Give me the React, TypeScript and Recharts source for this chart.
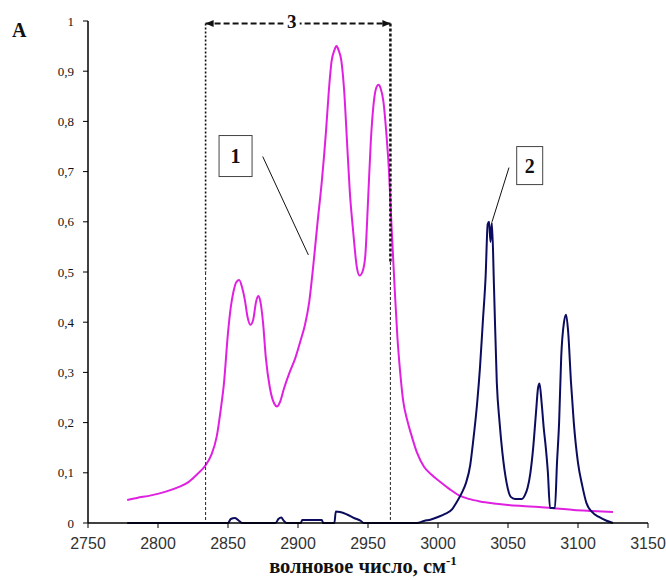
import {
  LineChart, Line, XAxis, YAxis, ReferenceLine, ReferenceDot,
} from 'recharts'

// curve 1 (magenta)
const magentaX = [
  2778, 2785, 2795, 2805, 2815, 2822, 2828, 2834, 2838, 2842, 2845, 2847, 2850, 2852, 2854, 2856,
  2858, 2860, 2862, 2864, 2866, 2868, 2870, 2871.5, 2873, 2875, 2877, 2880, 2883, 2885, 2887, 2890,
  2894, 2898, 2902, 2905, 2908, 2911, 2914, 2917, 2920, 2922, 2924, 2926, 2927.5, 2929, 2931, 2933,
  2935, 2937, 2939.5, 2942, 2944, 2946, 2948, 2950, 2952, 2954, 2956, 2957.5, 2959, 2961, 2963, 2965,
  2967, 2969, 2971, 2973, 2975, 2978, 2981, 2985, 2990, 2995, 3001, 3008, 3015, 3022, 3030, 3040,
  3050, 3060, 3072, 3085, 3097, 3110, 3125,
]
const magentaY = [
  0.046, 0.05, 0.055, 0.062, 0.072, 0.082, 0.097, 0.115, 0.135, 0.173, 0.23, 0.275, 0.379, 0.43, 0.462, 0.48,
  0.484, 0.47, 0.445, 0.41, 0.395, 0.405, 0.44, 0.452, 0.443, 0.4, 0.33, 0.268, 0.238, 0.232, 0.24, 0.268,
  0.3, 0.328, 0.365, 0.395, 0.44, 0.515, 0.6, 0.68, 0.78, 0.86, 0.92, 0.942, 0.95, 0.942, 0.92, 0.86,
  0.76, 0.66, 0.578, 0.51, 0.493, 0.5, 0.53, 0.64, 0.76, 0.835, 0.868, 0.873, 0.866, 0.84, 0.78, 0.7,
  0.58, 0.47, 0.37, 0.3, 0.246, 0.205, 0.175, 0.14, 0.112, 0.097, 0.083, 0.068, 0.055, 0.048, 0.043, 0.039,
  0.036, 0.034, 0.032, 0.029, 0.026, 0.024, 0.022,
]

// curve 2 (navy)
const navyX = [
  2778, 2850, 2852, 2855, 2858, 2860, 2884, 2886, 2888, 2890, 2892, 2902, 2903, 2917, 2918, 2926,
  2927, 2930, 2935, 2940, 2945, 2947, 2985, 2990, 2995, 3000, 3005, 3010, 3013, 3017, 3020, 3023,
  3025, 3028, 3030, 3032, 3034, 3035.5, 3036.5, 3037.5, 3038.5, 3040, 3042, 3044, 3046, 3049, 3052, 3055,
  3060, 3062, 3064, 3066, 3068, 3070, 3071.5, 3072.5, 3074, 3075.5, 3077, 3078.5, 3080, 3083.5, 3085, 3086.5,
  3088, 3090, 3091.5, 3093, 3095, 3097, 3100, 3103, 3106, 3110, 3115, 3120, 3125,
]
const navyY = [
  0, 0, 0.008, 0.01, 0.004, 0, 0, 0.008, 0.011, 0.004, 0, 0, 0.006, 0.006, 0, 0,
  0.023, 0.022, 0.017, 0.01, 0.004, 0, 0, 0.004, 0.007, 0.012, 0.018, 0.027, 0.04, 0.06, 0.08, 0.115,
  0.16, 0.24, 0.31, 0.4, 0.49, 0.595, 0.6, 0.56, 0.598, 0.47, 0.28, 0.2, 0.14, 0.08, 0.052, 0.048,
  0.048, 0.055, 0.07, 0.1, 0.15, 0.22, 0.27, 0.278, 0.24, 0.19, 0.15, 0.1, 0.03, 0.03, 0.12, 0.2,
  0.33, 0.4, 0.415, 0.38, 0.28, 0.2, 0.12, 0.075, 0.04, 0.022, 0.012, 0.005, 0,
]

const xTicks = [2750, 2800, 2850, 2900, 2950, 3000, 3050, 3100, 3150]
const yTicks = [0, 0.1, 0.2, 0.3, 0.4, 0.5, 0.6, 0.7, 0.8, 0.9, 1]

// bracket "3" and the two callouts
const bracketLeft = 2834
const bracketRight = 2966
const bracketY = 0.995
const leader1 = [{ x: 2874.8, y: 0.73 }, { x: 2907.4, y: 0.534 }]
const leader2 = [{ x: 3050.7, y: 0.708 }, { x: 3038.6, y: 0.6 }]

const magentaData = magentaX.map((x, i) => ({ x, y: magentaY[i] }))
const navyData = navyX.map((x, i) => ({ x, y: navyY[i] }))

const SERIF = '"Liberation Serif", "Times New Roman", serif'
const SANS = '"Liberation Sans", Arial, sans-serif'

const fmtY = (v: number) => (v === 0 ? '0' : v === 1 ? '1' : v.toFixed(1).replace('.', ','))

const boxShape = (label: string, w: number, h: number) => (p: any) => (
  <g>
    <rect x={p.cx - w / 2} y={p.cy - h / 2} width={w} height={h} fill="#fff" stroke="#444" strokeWidth={1} />
    <text x={p.cx} y={p.cy + 7} textAnchor="middle" fontFamily={SERIF} fontSize={20} fontWeight="bold" fill="#111">
      {label}
    </text>
  </g>
)

const arrowHead = (dir: number) => (p: any) => (
  <polygon
    points={`${p.cx},${p.cy} ${p.cx + dir * 8},${p.cy - 3.5} ${p.cx + dir * 8},${p.cy + 3.5}`}
    fill="#111"
  />
)

const threeLabel = (p: any) => (
  <g>
    <rect x={p.cx - 8} y={p.cy - 11} width={16} height={16} fill="#fff" />
    <text x={p.cx} y={p.cy + 4} textAnchor="middle" fontFamily={SERIF} fontSize={19} fontWeight="bold" fill="#111">
      3
    </text>
  </g>
)

export default function App() {
  return (
    <div style={{ position: 'fixed', left: 0, top: 0, width: 666, height: 580, background: '#fff' }}>
      <LineChart width={666} height={580} margin={{ top: 21, right: 18, left: 0, bottom: 27 }}>
        <XAxis
          type="number"
          dataKey="x"
          domain={[2750, 3150]}
          ticks={xTicks}
          allowDuplicatedCategory={false}
          height={30}
          tickSize={5}
          tickMargin={10}
          axisLine={{ stroke: '#000', strokeWidth: 1.5 }}
          tickLine={{ stroke: '#000' }}
          tick={{ fontFamily: SANS, fontSize: 16, fill: '#333' }}
        />
        <YAxis
          type="number"
          domain={[0, 1]}
          ticks={yTicks}
          width={88}
          tickSize={5}
          tickMargin={9}
          tickFormatter={fmtY}
          axisLine={{ stroke: '#000', strokeWidth: 1.5 }}
          tickLine={{ stroke: '#000' }}
          tick={{ fontFamily: SERIF, fontSize: 13, fill: '#111' }}
        />
        <Line data={magentaData} dataKey="y" type="monotone" stroke="#E020E0" strokeWidth={2}
          dot={false} isAnimationActive={false} />
        <Line data={navyData} dataKey="y" type="monotone" stroke="#0C0C5E" strokeWidth={2}
          dot={false} isAnimationActive={false} />

        {/* bracket verticals: heavy dotted on top, thin dashed below */}
        <ReferenceLine segment={[{ x: bracketLeft, y: bracketY }, { x: bracketLeft, y: 0.5 }]}
          stroke="#111" strokeWidth={1.6} strokeDasharray="2 2" ifOverflow="visible" />
        <ReferenceLine segment={[{ x: bracketLeft, y: 0.5 }, { x: bracketLeft, y: 0 }]}
          stroke="#222" strokeWidth={1} strokeDasharray="3 2" ifOverflow="visible" />
        <ReferenceLine segment={[{ x: bracketRight, y: bracketY }, { x: bracketRight, y: 0.52 }]}
          stroke="#111" strokeWidth={2.5} strokeDasharray="3 2" ifOverflow="visible" />
        <ReferenceLine segment={[{ x: bracketRight, y: 0.52 }, { x: bracketRight, y: 0 }]}
          stroke="#222" strokeWidth={1} strokeDasharray="3 2" ifOverflow="visible" />
        <ReferenceLine segment={[{ x: bracketLeft, y: bracketY }, { x: bracketRight, y: bracketY }]}
          stroke="#111" strokeWidth={2} strokeDasharray="6 3" ifOverflow="visible" />
        <ReferenceDot x={bracketLeft} y={bracketY} r={4} shape={arrowHead(1)} ifOverflow="visible" />
        <ReferenceDot x={bracketRight} y={bracketY} r={4} shape={arrowHead(-1)} ifOverflow="visible" />
        <ReferenceDot x={2895.5} y={bracketY} r={4} shape={threeLabel} ifOverflow="visible" />

        <ReferenceLine segment={leader1} stroke="#111" strokeWidth={1} ifOverflow="visible" />
        <ReferenceLine segment={leader2} stroke="#111" strokeWidth={1} ifOverflow="visible" />
        <ReferenceDot x={2855.4} y={0.731} r={4} shape={boxShape('1', 33, 41)} ifOverflow="visible" />
        <ReferenceDot x={3065.5} y={0.712} r={4} shape={boxShape('2', 26, 38)} ifOverflow="visible" />
      </LineChart>
      <svg width={666} height={580} style={{ position: 'absolute', left: 0, top: 0, pointerEvents: 'none' }}>
        <text x={12} y={37} fontFamily={SERIF} fontSize={20} fontWeight="bold" fill="#111">A</text>
        <text x={363} y={573} textAnchor="middle" fontFamily={SERIF} fontSize={20.5} fontWeight="bold" fill="#111">
          волновое число, см<tspan dy={-8} fontSize={13}>-1</tspan>
        </text>
      </svg>
    </div>
  )
}
